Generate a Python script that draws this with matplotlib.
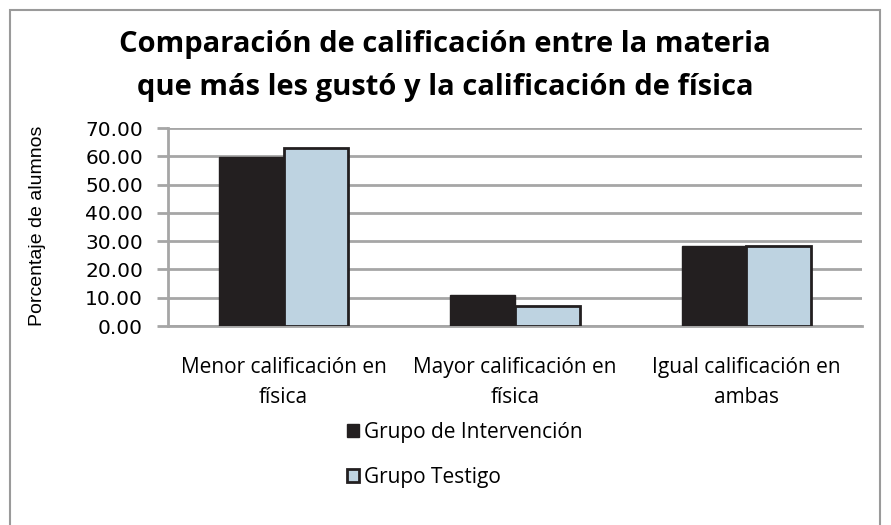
import numpy as np
import matplotlib.pyplot as plt
from matplotlib.patches import Rectangle

# Data
categories = ["Menor calificación en\nfísica", "Mayor calificación en\nfísica", "Igual calificación en\nambas"]
intervencion = [59.6, 10.8, 28.2]
testigo = [62.9, 7.0, 28.2]
series_names = ["Grupo de Intervención", "Grupo Testigo"]
yticks = [0, 10, 20, 30, 40, 50, 60, 70]
title_lines = ["Comparación de calificación entre la materia",
               "que más les gustó y la calificación de física"]

W, H = 891, 525
fig = plt.figure(figsize=(W / 100, H / 100), dpi=100)

# outer chart border
fig.patches.append(Rectangle((10 / W, -0.1), 870 / W, 1.1 - 10 / H, transform=fig.transFigure,
                             fill=False, edgecolor="#9a9a9a", linewidth=1.5))

ax = fig.add_axes([168 / W, (H - 326) / H, 694 / W, 198 / H])

x = np.arange(len(categories))
w = 0.28
grid_col = "#a6a6a6"
ax.bar(x - w / 2, intervencion, w, color="#231f20", edgecolor="#231f20", linewidth=1,
       label=series_names[0], zorder=3)
ax.bar(x + w / 2, testigo, w, color="#bed3e1", edgecolor="#231f20", linewidth=2,
       label=series_names[1], zorder=3)

ax.set_xlim(-0.5, 2.5)
ax.set_ylim(0, 70)
ax.set_yticks(yticks)
ax.set_yticklabels([f"{v:.2f}" for v in yticks], fontsize=14.5, family="DejaVu Sans")
ax.yaxis.grid(True, color=grid_col, linewidth=2)
ax.set_axisbelow(True)
ax.tick_params(axis="y", length=8, width=2, color=grid_col, pad=10)
ax.tick_params(axis="x", length=0, pad=22)
ax.set_xticks(x)
ax.set_xticklabels(categories, fontsize=15, family="Open Sans", linespacing=1.6)
for s in ["top", "right"]:
    ax.spines[s].set_visible(False)
for s in ["left", "bottom"]:
    ax.spines[s].set_color(grid_col)
    ax.spines[s].set_linewidth(2)

fig.text(38 / W, (H - 226) / H, "Porcentaje de alumnos", rotation=90, fontsize=14,
         family="Liberation Sans", ha="center", va="center")

for yb, line in zip([52, 95], title_lines):
    fig.text(445 / W, (H - yb) / H, line, fontsize=21, fontweight="bold",
             family="Open Sans", ha="center", va="baseline")

fig.legend(loc="upper left", bbox_to_anchor=(328 / W, (H - 403) / H), frameon=False,
           prop={"family": "Open Sans", "size": 15}, handlelength=0.6, handleheight=0.6,
           handletextpad=0.25, labelspacing=1.15)

fig.savefig("out.png", dpi=100)
